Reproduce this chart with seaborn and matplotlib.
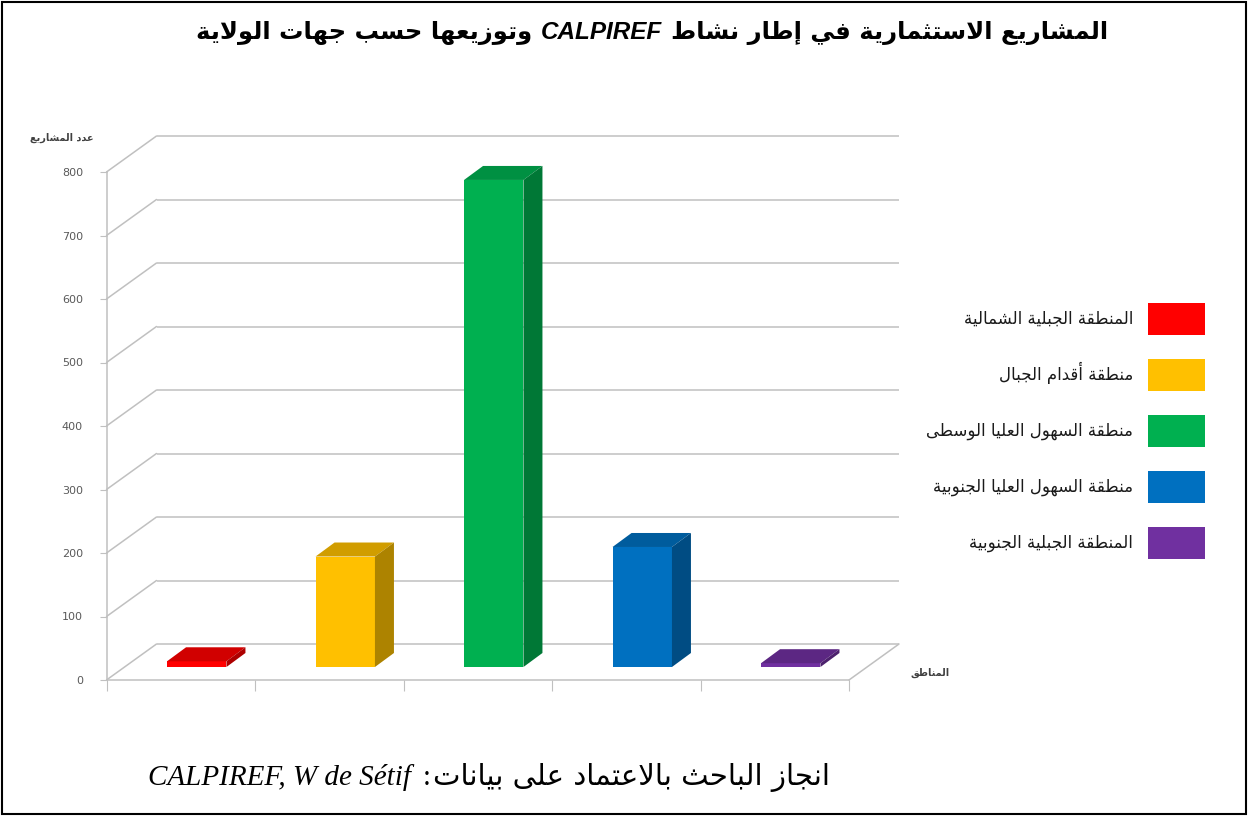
import numpy as np
import pandas as pd
import matplotlib
matplotlib.use("Agg")
import matplotlib.pyplot as plt
import seaborn as sns
from matplotlib.transforms import offset_copy
from matplotlib.patches import Polygon, Rectangle

# ---------------- data ----------------
regions = ["المنطقة الجبلية الشمالية", "منطقة أقدام الجبال",
           "منطقة السهول العليا الوسطى", "منطقة السهول العليا الجنوبية",
           "المنطقة الجبلية الجنوبية"]
projects = [9, 174, 767, 189, 6]
colors = ["#ff0000", "#ffc000", "#00b050", "#0070c0", "#7030a0"]
y_ticks = [0, 100, 200, 300, 400, 500, 600, 700, 800]

title_right = "المشاريع الاستثمارية في إطار نشاط"
title_latin = "CALPIREF"
title_left = "وتوزيعها حسب جهات الولاية"
y_title = "عدد المشاريع"
x_title = "المناطق"
source_ar = "انجاز الباحث بالاعتماد على بيانات"
source_latin = "CALPIREF, W de Sétif"

# ---------------- Arabic shaping (presentation forms, visual order) ----------------
_letters = [chr(c) for c in list(range(0x621, 0x63B)) + list(range(0x641, 0x64B))]
_nforms = [1, 2, 2, 2, 2, 4, 2, 4, 2, 4, 4, 4, 4, 4, 2, 2, 2, 2,
           4, 4, 4, 4, 4, 4, 4, 4,
           4, 4, 4, 4, 4, 4, 4, 2, 2, 4]
FORMS = {}
_cp = 0xFE80
for _l, _n in zip(_letters, _nforms):
    FORMS[_l] = tuple(chr(_cp + k) for k in range(_n))
    _cp += _n
LAMALEF = {"\u0622": ("\uFEF5", "\uFEF6"), "\u0623": ("\uFEF7", "\uFEF8"),
           "\u0625": ("\uFEF9", "\uFEFA"), "\u0627": ("\uFEFB", "\uFEFC")}


def shape(s):
    def dual(c):
        return c in FORMS and len(FORMS[c]) == 4
    out = []
    i, n = 0, len(s)
    while i < n:
        c = s[i]
        if c not in FORMS:
            out.append(c)
            i += 1
            continue
        prev = s[i - 1] if i > 0 else ""
        jp = dual(prev)
        if c == "\u0644" and i + 1 < n and s[i + 1] in LAMALEF:
            iso, fin = LAMALEF[s[i + 1]]
            out.append(fin if jp else iso)
            i += 2
            continue
        nxt = s[i + 1] if i + 1 < n else ""
        jn = dual(c) and (nxt in FORMS and nxt != "\u0621")
        f = FORMS[c]
        if jp and jn:
            g = f[3]
        elif jp:
            g = f[1] if len(f) > 1 else f[0]
        elif jn:
            g = f[2]
        else:
            g = f[0]
        out.append(g)
        i += 1
    return "".join(reversed(out))


# ---------------- figure ----------------
sns.set_style("white")
plt.rcParams["font.family"] = ["DejaVu Sans"]

W, H = 1251, 816
fig = plt.figure(figsize=(W / 100, H / 100), dpi=100)
ax = fig.add_axes([106.5 / W, 1 - 680 / H, 742.5 / W, 508 / H])

df = pd.DataFrame({"region": [shape(r) for r in regions], "projects": projects})
sns.barplot(data=df, x="region", y="projects", hue="region", palette=colors,
            width=0.4, saturation=1, legend=True, ax=ax, zorder=3,
            linewidth=0, edgecolor="none")
ax.set_xlim(-0.5, 4.5)
ax.set_ylim(0, 800)
ax.set_xlabel("")
ax.set_ylabel("")

# depth geometry (pixels)
WALL = (50, 36)
BAR_SHIFT = (16, 13)
BAR_DEPTH = (19, 14)
wall_tr = offset_copy(ax.transData, fig=fig, x=WALL[0], y=WALL[1], units="dots")
bar_tr = offset_copy(ax.transData, fig=fig, x=BAR_SHIFT[0], y=BAR_SHIFT[1], units="dots")
inv = ax.transData.inverted()

grid_c = "#c0c0c0"
# back wall gridlines
ax.hlines(y_ticks, -0.5, 4.5, transform=wall_tr, colors=grid_c, lw=1.1,
          zorder=1, clip_on=False)
# left wall diagonals
for v in y_ticks:
    p0 = ax.transData.transform((-0.5, v))
    p1 = wall_tr.transform((-0.5, v))
    d = inv.transform([p0, p1])
    ax.plot(d[:, 0], d[:, 1], color=grid_c, lw=1.1, zorder=1, clip_on=False)
# floor right edge
p0 = ax.transData.transform((4.5, 0))
p1 = wall_tr.transform((4.5, 0))
d = inv.transform([p0, p1])
ax.plot(d[:, 0], d[:, 1], color=grid_c, lw=1.1, zorder=1, clip_on=False)

# 3D bars
for p in list(ax.patches):
    p.set_transform(bar_tr)
    p.set_clip_on(False)
    p.set_linewidth(0)
    x0, w, h = p.get_x(), p.get_width(), p.get_height()
    fc = np.array(p.get_facecolor()[:3])
    tl, tr_, br = bar_tr.transform([(x0, h), (x0 + w, h), (x0 + w, 0)])
    dd = np.array(BAR_DEPTH)
    top = inv.transform([tl, tr_, tr_ + dd, tl + dd])
    side = inv.transform([tr_, br, br + dd, tr_ + dd])
    ax.add_patch(Polygon(top, closed=True, fc=fc * 0.82, ec="none", lw=0, zorder=3, clip_on=False))
    ax.add_patch(Polygon(side, closed=True, fc=fc * 0.68, ec="none", lw=0, zorder=3, clip_on=False))

# axes styling
for s in ["top", "right"]:
    ax.spines[s].set_visible(False)
for s in ["left", "bottom"]:
    ax.spines[s].set_color(grid_c)
    ax.spines[s].set_linewidth(1.1)
ax.set_yticks(y_ticks)
ax.set_yticklabels([str(v) for v in y_ticks], fontsize=8, color="#595959")
ax.set_xticks([-0.5, 0.5, 1.5, 2.5, 3.5, 4.5])
ax.set_xticklabels([""] * 6)
ax.tick_params(axis="y", length=5, color=grid_c, pad=12, left=True)
ax.tick_params(axis="x", length=8, color=grid_c, bottom=True)
ax.set_facecolor("none")

# legend (boxes on the right of labels)
leg = ax.get_legend()
handles = leg.legend_handles
labels = [t.get_text() for t in leg.get_texts()]
leg.remove()
for hd in handles:
    hd.set_linewidth(0)
fs = 12
px = fs * 100 / 72
box_h = 32
hh = (box_h / px - 0.245) / 0.65
fig.legend(handles, labels, loc="upper right", bbox_to_anchor=(1205 / W, 1 - 303 / H),
           frameon=False, markerfirst=False, fontsize=fs,
           handlelength=57 / px, handleheight=hh, labelspacing=24 / px,
           handletextpad=15 / px, borderpad=0, borderaxespad=0,
           labelcolor="#1a1a1a")

# axis titles
fig.text(62 / W, 1 - 138 / H, shape(y_title), fontsize=7, color="#404040",
         ha="center", va="center", fontweight="bold")
fig.text(930 / W, 1 - 673 / H, shape(x_title), fontsize=7, color="#404040",
         ha="center", va="center", fontweight="bold")

# rows of mixed text
renderer = fig.canvas.get_renderer()


def row(pieces, y_px, x_left=None, x_center=None, gaps=None):
    ts = [fig.text(0, 1 - y_px / H, s, va="baseline", ha="left", color="black", **kw)
          for s, kw in pieces]
    widths = [t.get_window_extent(renderer).width for t in ts]
    gaps = gaps or [0] * (len(ts) - 1)
    total = sum(widths) + sum(gaps)
    x = x_left if x_left is not None else x_center - total / 2
    for k, (t, wdt) in enumerate(zip(ts, widths)):
        t.set_x(x / W)
        x += wdt + (gaps[k] if k < len(gaps) else 0)


row([(shape(title_left), dict(fontsize=17.5, fontweight="bold", family=["DejaVu Sans"])),
     (title_latin, dict(fontsize=17.5, fontweight="bold", style="italic", family=["Liberation Sans"])),
     (shape(title_right), dict(fontsize=17.5, fontweight="bold", family=["DejaVu Sans"]))],
    39, x_center=652, gaps=[9, 9])

row([(source_latin, dict(fontsize=21, style="italic", family=["Liberation Serif"])),
     (":", dict(fontsize=21, family=["Liberation Serif"])),
     (shape(source_ar), dict(fontsize=21, family=["DejaVu Sans"]))],
    785, x_left=148, gaps=[12, 2])

# outer frame
fig.add_artist(Rectangle((2 / W, 2 / H), 1244 / W, 812 / H, transform=fig.transFigure,
                         fill=False, ec="black", lw=1.5))

fig.savefig("out.png", dpi=100)
